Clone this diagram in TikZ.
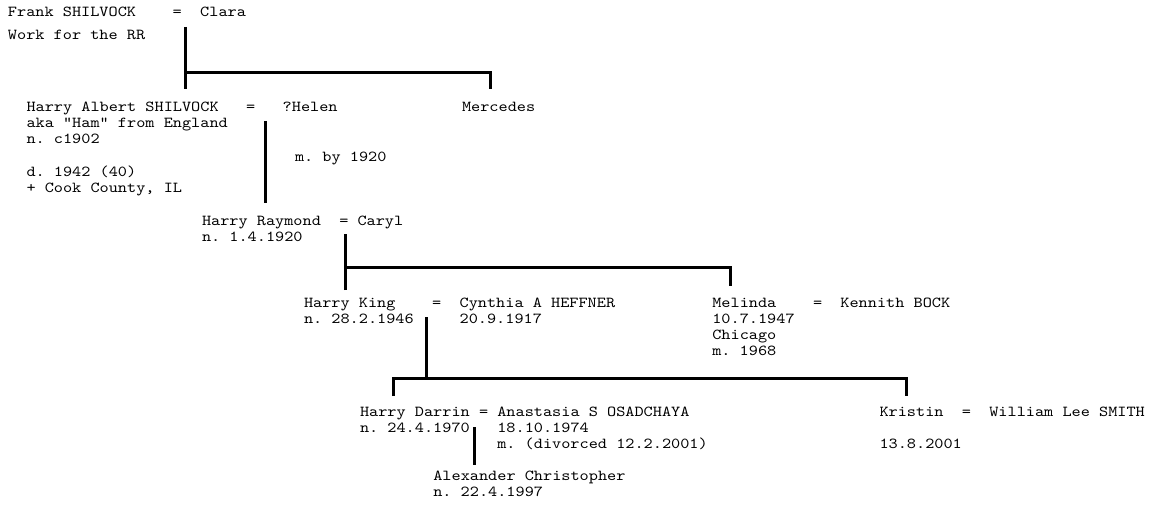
\documentclass[tikz,border=0pt]{standalone}
\usepackage{fontspec}
\newfontfamily\monofont[FakeStretch=1.143]{lmmono10-regular.otf}
\begin{document}
\begin{tikzpicture}[x=1pt,y=-1pt,
  t/.style={anchor=base west, inner sep=0pt, outer sep=0pt, font=\monofont\fontsize{15.25}{16}\selectfont\frenchspacing},
  ln/.style={line width=3pt, line cap=butt, line join=miter}]
\useasboundingbox (0,0) rectangle (1150,505);
\fill[white] (0,0) rectangle (1150,505);

% generation 1
\node[t] (frank) at (8,16.5) {Frank SHILVOCK};
\node[t] (eq1) at (172.7,16.5) {=};
\node[t] (clara) at (200.2,16.5) {Clara};
\node[t] (work) at (8,39.5) {Work for the RR};

% generation 2
\node[t] (harrya) at (26.5,112) {Harry Albert SHILVOCK};
\node[t] (eq2) at (246.1,112) {=};
\node[t] (helen) at (282.7,112) {?Helen};
\node[t] (merc) at (462,112) {Mercedes};
\node[t] (aka) at (26.5,128) {aka “Ham” from England};
\node[t] (nha) at (26.5,144) {n. c1902};
\node[t] (dha) at (26.5,177) {d. 1942 (40)};
\node[t] (bur) at (26.5,193) {+ Cook County, IL};
\node[t] (mby) at (295,162) {m. by 1920};

% generation 3
\node[t] (harryr) at (202,225) {Harry Raymond};
\node[t] (eq3) at (339.3,225) {=};
\node[t] (caryl) at (357.5,225) {Caryl};
\node[t] (nhr) at (202,241) {n. 1.4.1920};

% generation 4
\node[t] (harryk) at (304,307) {Harry King};
\node[t] (eq4) at (432.1,307) {=};
\node[t] (cyn) at (459.6,307) {Cynthia A HEFFNER};
\node[t] (nhk) at (304,323) {n. 28.2.1946};
\node[t] (ncyn) at (459.6,323) {20.9.1917};
\node[t] (mel) at (712.3,307) {Melinda};
\node[t] (eq5) at (813,307) {=};
\node[t] (ken) at (840.4,307) {Kennith BOCK};
\node[t] (nmel) at (712.3,323) {10.7.1947};
\node[t] (chi) at (712.3,339) {Chicago};
\node[t] (mmel) at (712.3,355) {m. 1968};

% generation 5
\node[t] (harryd) at (360,416.5) {Harry Darrin};
\node[t] (eq6) at (479,416.5) {=};
\node[t] (ana) at (497.3,416.5) {Anastasia S OSADCHAYA};
\node[t] (nhd) at (360,432.5) {n. 24.4.1970};
\node[t] (nana) at (497.3,432.5) {18.10.1974};
\node[t] (mana) at (497.3,448.5) {m. (divorced 12.2.2001)};
\node[t] (kri) at (879.5,416.5) {Kristin};
\node[t] (eq7) at (961.9,416.5) {=};
\node[t] (wil) at (989.3,416.5) {William Lee SMITH};
\node[t] (nkri) at (879.5,448.5) {13.8.2001};

% generation 6
\node[t] (alex) at (433.3,480.5) {Alexander Christopher};
\node[t] (nalex) at (433.3,496.5) {n. 22.4.1997};

% connectors
\coordinate (p1) at (185,27);
\coordinate (h1) at (185,73);
\coordinate (c1a) at (185,89);
\coordinate (c1b) at (490,89);
\draw[ln] (p1) -- (h1);
\draw[ln] (c1a) |- (c1b |- h1) -- (c1b);

\coordinate (p2) at (265,121);
\coordinate (c2) at (265,203);
\draw[ln] (p2) -- (c2);

\coordinate (p3) at (345,234);
\coordinate (h3) at (345,267);
\coordinate (c3a) at (345,290);
\coordinate (c3b) at (730,286);
\draw[ln] (p3) -- (h3);
\draw[ln] (c3a) |- (c3b |- h3) -- (c3b);

\coordinate (p4) at (426,317);
\coordinate (h4) at (426,378);
\coordinate (c4a) at (393,396);
\coordinate (c4b) at (906,396);
\draw[ln] (p4) -- (h4);
\draw[ln] (c4a) |- (c4b |- h4) -- (c4b);

\coordinate (p5) at (474,427);
\coordinate (c5) at (474,465);
\draw[ln] (p5) -- (c5);
\end{tikzpicture}
\end{document}
